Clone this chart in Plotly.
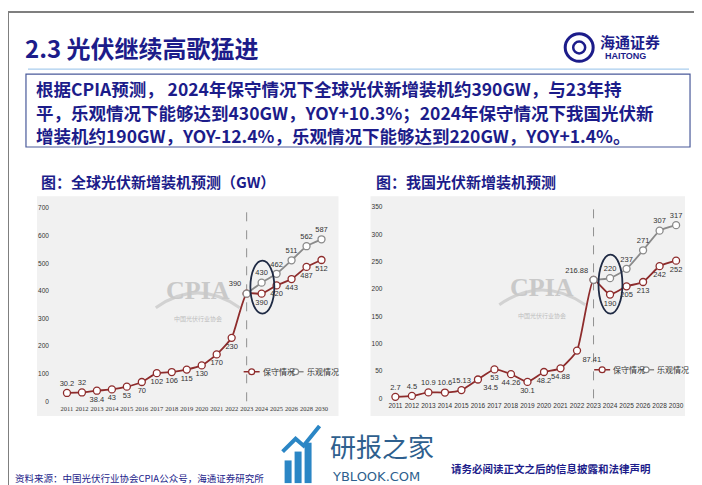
import plotly.graph_objects as go

W, H = 702, 485

years = ["2011", "2012", "2013", "2014", "2015", "2016", "2017", "2018", "2019",
         "2020", "2021", "2022", "2023", "2024", "2025", "2026", "2028", "2030"]
future_years = ["2023", "2024", "2025", "2026", "2028", "2030"]

global_base = [30.2, 32, 38.4, 43, 53, 70, 102, 106, 115, 130, 170, 230, 390, 390, 420, 443, 487, 512]
global_opt = [390, 430, 462, 511, 562, 587]
china_base = [2.7, 4.5, 10.9, 10.6, 15.13, 34.5, 53, 44.26, 30.1, 48.2, 54.88, 87.41, 216.88, 190, 205, 213, 242, 252]
china_opt = [216.88, 220, 237, 271, 307, 317]

global_base_labels = [str(v) for v in global_base]
global_opt_labels = [""] + [str(v) for v in global_opt[1:]]
china_base_labels = [str(v) for v in china_base]
china_opt_labels = [""] + [str(v) for v in china_opt[1:]]

NAVY = "#1c1c8a"
RED = "#8e2c2c"
GREY = "#8a8a8a"
FONT = "Noto Sans CJK SC"


def px(x):
    return x / W


def py(y):
    return 1 - y / H


fig = go.Figure()

g_base_pos = ["top center", "top center", "bottom center", "bottom center", "bottom center",
              "bottom center", "bottom center", "bottom center", "bottom center", "bottom center",
              "bottom center", "bottom center", "top left", "bottom center", "bottom center",
              "bottom center", "bottom center", "bottom center"]
c_base_pos = ["top center", "top center", "top center", "top center", "top center",
              "bottom right", "bottom center", "bottom center", "bottom center", "bottom center",
              "bottom center", "bottom right", "top left", "bottom center", "bottom center",
              "bottom center", "bottom center", "bottom center"]

label_font = dict(family="Liberation Sans", size=7.5, color="#333333")
mk = dict(symbol="circle", size=7, color="white")

series = [
    ("x", "y", years, global_base, global_base_labels, g_base_pos, RED),
    ("x", "y", future_years, global_opt, global_opt_labels, "top center", GREY),
    ("x2", "y2", years, china_base, china_base_labels, c_base_pos, RED),
    ("x2", "y2", future_years, china_opt, china_opt_labels, "top center", GREY),
]
for xa, ya, xs, ys, labels, pos, color in series:
    fig.add_trace(go.Scatter(
        x=xs, y=ys, text=labels, mode="lines+markers+text",
        textposition=pos, textfont=label_font, cliponaxis=False,
        line=dict(color=color, width=1.8, shape="spline", smoothing=0.5),
        marker=dict(mk, line=dict(color=color, width=1.3)),
        showlegend=False, xaxis=xa, yaxis=ya))

axis_common = dict(showgrid=False, zeroline=False, showline=False, ticks="",
                   tickfont=dict(family="Liberation Sans", size=6.5, color="#333333"))

fig.update_layout(
    width=W, height=H, margin=dict(l=0, r=0, t=0, b=0),
    paper_bgcolor="white", plot_bgcolor="rgba(0,0,0,0)",
    font=dict(family=FONT),
    xaxis=dict(axis_common, type="category", categoryorder="array", categoryarray=years,
               domain=[px(46), px(330)], range=[-0.87, 18.07], anchor="y",
               tickangle=0, ticklabelstandoff=2,
               tickfont=dict(family="Liberation Sans Narrow", size=6.5, color="#333333")),
    yaxis=dict(axis_common, domain=[py(395), py(199)], range=[0, 700], dtick=100,
               anchor="x", ticklabelstandoff=4),
    xaxis2=dict(axis_common, type="category", categoryorder="array", categoryarray=years,
                domain=[px(380), px(676)], range=[-0.48, 17.42], anchor="y2",
                tickangle=0, ticklabelstandoff=2),
    yaxis2=dict(axis_common, domain=[py(392), py(198)], range=[0, 350], dtick=50,
                anchor="x2", ticklabelstandoff=4),
)

shapes = []
# page frame
shapes.append(dict(type="rect", xref="paper", yref="paper", x0=0, x1=1, y0=0, y1=1,
                   line=dict(color="#7f7f7f", width=2), fillcolor="rgba(0,0,0,0)"))
# header rule
shapes.append(dict(type="line", xref="paper", yref="paper", x0=px(20), x1=px(682),
                   y0=py(58), y1=py(58), line=dict(color="#a9cdee", width=1.2)))
# summary box
shapes.append(dict(type="rect", xref="paper", yref="paper", x0=px(18), x1=px(683),
                   y0=py(137), y1=py(63), line=dict(color="#4a5a9a", width=1.2),
                   fillcolor="white", layer="below"))
# chart panels
shapes.append(dict(type="rect", xref="paper", yref="paper", x0=px(29), x1=px(331),
                   y0=py(410), y1=py(187), line=dict(width=0), fillcolor="#f1f1f1", layer="below"))
shapes.append(dict(type="rect", xref="paper", yref="paper", x0=px(363), x1=px(678),
                   y0=py(410), y1=py(187), line=dict(width=0), fillcolor="#f1f1f1", layer="below"))
# dashed 2023 markers
shapes.append(dict(type="line", xref="x", yref="paper", x0=12, x1=12, y0=py(395), y1=py(200),
                   line=dict(color="#909090", width=1, dash="dash"), layer="below"))
shapes.append(dict(type="line", xref="x2", yref="paper", x0=12, x1=12, y0=py(392), y1=py(197),
                   line=dict(color="#909090", width=1, dash="dash"), layer="below"))
# ellipses around 2024
shapes.append(dict(type="circle", xref="x", yref="y", x0=12.25, x1=13.85, y0=318, y1=510,
                   line=dict(color="#1f2a44", width=1.8)))
shapes.append(dict(type="circle", xref="x2", yref="y2", x0=12.3, x1=13.75, y0=155, y1=263,
                   line=dict(color="#1f2a44", width=1.8)))
# watermark arcs
shapes.append(dict(type="path", xref="paper", yref="paper", layer="below",
                   path=f"M {px(148)} {py(300)} Q {px(190)} {py(270)} {px(232)} {py(300)}",
                   line=dict(color="#d2d2d2", width=3)))
shapes.append(dict(type="path", xref="paper", yref="paper", layer="below",
                   path=f"M {px(492)} {py(297)} Q {px(535)} {py(267)} {px(578)} {py(297)}",
                   line=dict(color="#d2d2d2", width=3)))
# logo emblem
shapes.append(dict(type="circle", xref="paper", yref="paper", x0=px(558), x1=px(586),
                   y0=py(50), y1=py(22), line=dict(color=NAVY, width=3)))
shapes.append(dict(type="circle", xref="paper", yref="paper", x0=px(566), x1=px(578),
                   y0=py(42), y1=py(30), line=dict(color=NAVY, width=2.5)))
# footer watermark bars
bar_x = [(277, 284), (287, 294), (297, 304)]
bar_top = [455, 446, 437]
for (a, b), t in zip(bar_x, bar_top):
    shapes.append(dict(type="rect", xref="paper", yref="paper", x0=px(a), x1=px(b),
                       y0=py(478), y1=py(t), line=dict(width=0), fillcolor="#2b86c5"))
shapes.append(dict(type="path", xref="paper", yref="paper",
                   path=f"M {px(275)} {py(446)} L {px(288)} {py(433)} L {px(296)} {py(440)} L {px(312)} {py(420)}",
                   line=dict(color="#2b86c5", width=4)))

annotations = []


def note(x, y, text, size, color=NAVY, bold=False, anchor="left", family=FONT, yanchor="middle"):
    t = f"<b>{text}</b>" if bold else text
    annotations.append(dict(xref="paper", yref="paper", x=px(x), y=py(y), text=t,
                            showarrow=False, xanchor=anchor, yanchor=yanchor,
                            font=dict(family=family, size=size, color=color)))


# hand-drawn legends inside each chart
def legend_item(x, y, name, color):
    shapes.append(dict(type="line", xref="paper", yref="paper", x0=px(x), x1=px(x + 16),
                       y0=py(y), y1=py(y), line=dict(color=color, width=1.5)))
    shapes.append(dict(type="circle", xref="paper", yref="paper", x0=px(x + 5), x1=px(x + 11),
                       y0=py(y + 3), y1=py(y - 3), line=dict(color=color, width=1.2),
                       fillcolor="white"))
    note(x + 17, y, name, 8, color="#333333")


legend_item(236, 365, "保守情况", RED)
legend_item(280, 365, "乐观情况", GREY)
legend_item(587, 363, "保守情况", RED)
legend_item(631, 363, "乐观情况", GREY)

note(15, 36, "2.3 光伏继续高歌猛进", 24, bold=True)
note(591, 30, "海通证券", 15, bold=True)
note(596, 45, "HAITONG", 9, bold=True, family="Liberation Sans")

note(26, 78, "根据CPIA预测， 2024年保守情况下全球光伏新增装机约390GW，与23年持", 17.5, bold=True)
note(26, 102, "平，乐观情况下能够达到430GW，YOY+10.3%；2024年保守情况下我国光伏新", 17.5, bold=True)
note(26, 125, "增装机约190GW，YOY-12.4%，乐观情况下能够达到220GW，YOY+1.4%。", 17.5, bold=True)

note(31, 172, "图：全球光伏新增装机预测（GW）", 15, bold=True)
note(367, 172, "图：我国光伏新增装机预测", 15, bold=True)

note(190, 283, "CPIA", 26, color="#c9c9c9", bold=True, anchor="center", family="Liberation Sans Narrow")
note(190, 311, "中国光伏行业协会", 6, color="#bdbdbd", anchor="center")
note(535, 280, "CPIA", 26, color="#c9c9c9", bold=True, anchor="center", family="Liberation Sans Narrow")
note(535, 308, "中国光伏行业协会", 6, color="#bdbdbd", anchor="center")

note(320, 440, "研报之家", 26, color="#2e5f8e")
note(322, 471, "YBLOOK.COM", 13, color="#2e5f8e", family="DejaVu Sans")
note(442, 463, "请务必阅读正文之后的信息披露和法律声明", 10.5, bold=True)
note(5, 473, "资料来源：中国光伏行业协会CPIA公众号，海通证券研究所", 9.5)

fig.update_layout(shapes=shapes, annotations=annotations)

fig.write_html("out.html")
